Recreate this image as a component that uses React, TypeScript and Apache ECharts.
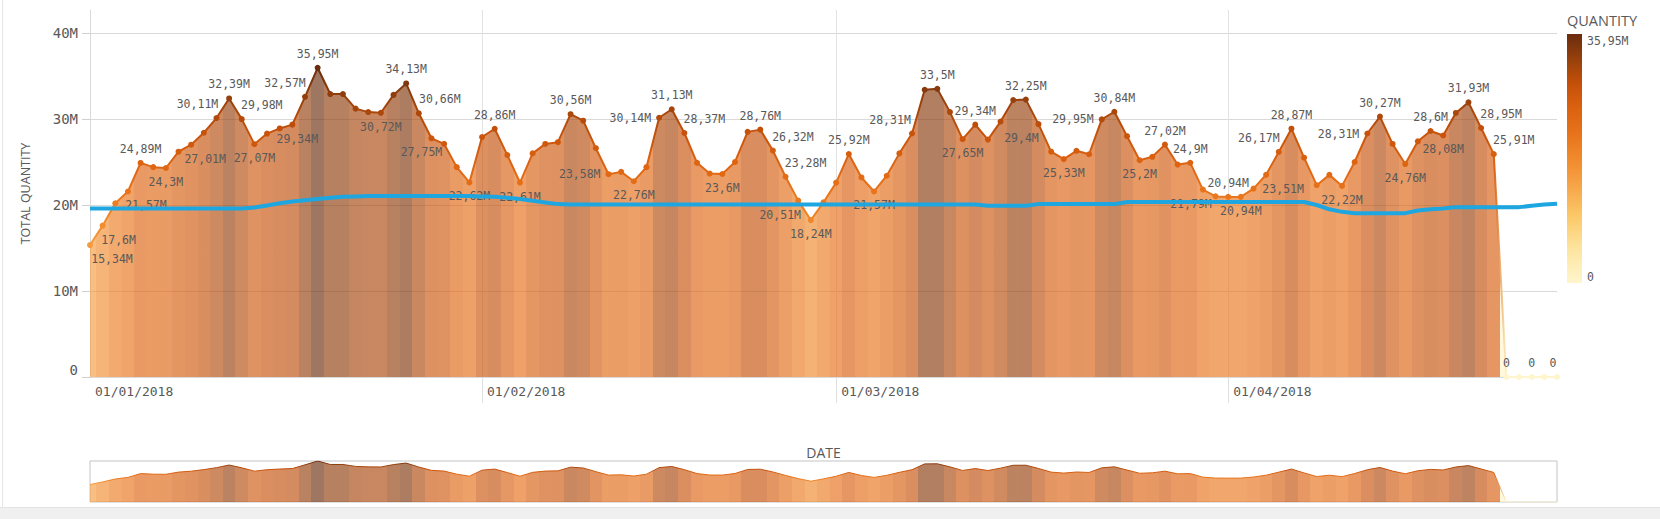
import React, { useEffect, useRef } from "react";
import * as echarts from "echarts";

// ---- data (values in millions) ----
const quantity: number[] = [
  15.34, 17.6, 20.2, 21.57, 24.89, 24.4, 24.3, 26.2, 27.01, 28.4,
  30.11, 32.39, 29.98, 27.07, 28.3, 28.9, 29.34, 32.57, 35.95, 32.9,
  32.9, 31.2, 30.8, 30.72, 32.8, 34.13, 30.66, 27.75, 27.1, 24.4,
  22.62, 27.9, 28.86, 25.8, 22.61, 26.0, 27.1, 27.3, 30.56, 29.8,
  26.6, 23.58, 23.85, 22.76, 24.4, 30.14, 31.13, 28.37, 24.9, 23.65,
  23.6, 25.0, 28.5, 28.76, 26.32, 23.28, 20.51, 18.24, 20.3, 22.6,
  25.92, 23.2, 21.57, 23.4, 26.0, 28.31, 33.4, 33.5, 30.8, 27.65,
  29.34, 27.6, 29.7, 32.2, 32.25, 29.4, 26.2, 25.33, 26.3, 25.9,
  29.95, 30.84, 28.0, 25.2, 25.6, 27.02, 24.7, 24.9, 21.79, 21.0,
  20.94, 20.94, 21.9, 23.51, 26.17, 28.87, 25.5, 22.3, 23.5, 22.22,
  25.0, 28.31, 30.27, 27.1, 24.76, 27.4, 28.6, 28.08, 30.7, 31.93,
  28.95, 25.91, 0, 0, 0, 0, 0,
];

const trend: number[] = [
  19.6, 19.6, 19.6, 19.6, 19.6, 19.6, 19.6, 19.6, 19.6, 19.6,
  19.6, 19.6, 19.6, 19.7, 19.95, 20.2, 20.4, 20.55, 20.7, 20.85,
  20.95, 21.0, 21.05, 21.05, 21.05, 21.05, 21.05, 21.05, 21.05, 21.05,
  21.05, 21.0, 20.95, 20.85, 20.7, 20.5, 20.3, 20.1, 20.05, 20.05,
  20.05, 20.05, 20.05, 20.05, 20.05, 20.05, 20.05, 20.05, 20.05, 20.05,
  20.05, 20.05, 20.05, 20.05, 20.05, 20.05, 20.05, 20.05, 20.05, 20.05,
  20.05, 20.05, 20.05, 20.05, 20.05, 20.05, 20.05, 20.05, 20.05, 20.05,
  20.05, 19.9, 19.9, 19.9, 19.9, 20.1, 20.1, 20.1, 20.1, 20.1,
  20.1, 20.1, 20.35, 20.35, 20.35, 20.35, 20.35, 20.35, 20.35, 20.35,
  20.35, 20.35, 20.35, 20.35, 20.35, 20.35, 20.35, 20.0, 19.5, 19.2,
  19.05, 19.05, 19.05, 19.05, 19.05, 19.35, 19.5, 19.6, 19.75, 19.75,
  19.75, 19.75, 19.75, 19.75, 19.9, 20.05, 20.15,
];

const START_YEAR = 2018;
const dates: string[] = quantity.map((_, i) => {
  const d = new Date(START_YEAR, 0, 1 + i);
  const dd = String(d.getDate()).padStart(2, "0");
  const mm = String(d.getMonth() + 1).padStart(2, "0");
  return `${dd}/${mm}/${d.getFullYear()}`;
});

const yTicks: number[] = [0, 10, 20, 30, 40];
const Y_TOP = 42.67;
const legendTitle = "QUANTITY";
const xTitle = "DATE";
const yTitle = "TOTAL QUANTITY";

// label placement: [day index, side, x offset]
const labelPlacement: [number, string, number][] = [
  [0, "b", 22], [1, "b", 16], [3, "b", 18], [4, "t", 0], [6, "b", 0], [8, "b", 14],
  [10, "t", -19], [11, "t", 0], [12, "t", 20], [13, "b", 0], [16, "b", 5], [17, "t", -20],
  [18, "t", 0], [23, "b", 0], [25, "t", 0], [26, "t", 21], [27, "b", -10], [30, "b", 0],
  [32, "t", 0], [34, "b", 0], [38, "t", 0], [41, "l", 0], [43, "b", 0], [45, "l", 0],
  [46, "t", 0], [47, "t", 20], [50, "b", 0], [53, "t", 0], [54, "t", 20], [55, "t", 20],
  [56, "b", -18], [57, "b", 0], [60, "t", 0], [62, "b", 0], [65, "t", -22], [67, "t", 0],
  [69, "b", 0], [70, "t", 0], [74, "t", 0], [75, "b", -17], [77, "b", 0], [80, "l", 0],
  [81, "t", 0], [83, "b", 0], [85, "t", 0], [87, "t", 0], [88, "b", -12], [90, "t", 0],
  [91, "b", 0], [93, "b", 17], [94, "t", -20], [95, "t", 0], [99, "b", 0], [101, "l", 0],
  [102, "t", 0], [104, "b", 0], [106, "t", 0], [107, "b", 0], [109, "t", 0], [110, "t", 20],
  [111, "t", 20], [112, "t", 0], [114, "t", 0], [116, "t", -4],
];

// ---- styling ----
const MONO = '"DejaVu Sans Mono", monospace';
const SANS = '"Open Sans", "Liberation Sans", sans-serif';
const TEXT = "#595959";
const AREA_ALPHA = 0.65;

const PALETTE: [number, string][] = [
  [0, "#fff5cc"], [0.13, "#fde6a2"], [0.27, "#fbc868"], [0.43, "#f59a3e"],
  [0.5, "#f08a2c"], [0.6, "#e8731a"], [0.7, "#dc6210"], [0.8, "#c4500a"],
  [0.9, "#96400c"], [1, "#6a2d0e"],
];

function hexToRgb(h: string): number[] {
  const n = parseInt(h.slice(1), 16);
  return [(n >> 16) & 255, (n >> 8) & 255, n & 255];
}
function colorAt(t: number): number[] {
  const c = Math.max(0, Math.min(1, t));
  for (let i = 1; i < PALETTE.length; i++) {
    const [t1, h1] = PALETTE[i];
    const [t0, h0] = PALETTE[i - 1];
    if (c <= t1) {
      const f = (c - t0) / (t1 - t0 || 1);
      const a = hexToRgb(h0);
      const b = hexToRgb(h1);
      return a.map((v, k) => Math.round(v + (b[k] - v) * f));
    }
  }
  return hexToRgb(PALETTE[PALETTE.length - 1][1]);
}
const rgb = (c: number[]) => `rgb(${c[0]},${c[1]},${c[2]})`;
const rgba = (c: number[], a: number) => `rgba(${c[0]},${c[1]},${c[2]},${a})`;

const maxQ = Math.max(...quantity);
const last = quantity.length - 1;

function lineGradient() {
  return new echarts.graphic.LinearGradient(
    0, 0, 1, 0,
    quantity.map((v, i) => ({ offset: i / last, color: rgb(colorAt(v / maxQ)) }))
  );
}
function areaGradient() {
  const stops: { offset: number; color: string }[] = [];
  quantity.forEach((v, i) => {
    const c = rgba(colorAt(v / maxQ), AREA_ALPHA);
    stops.push({ offset: Math.max(0, (i - 0.5) / last), color: c });
    stops.push({ offset: Math.min(1, (i + 0.5) / last), color: c });
  });
  return new echarts.graphic.LinearGradient(0, 0, 1, 0, stops);
}

const fmtVal = (v: number) => (v === 0 ? "0" : String(v).replace(".", ",") + "M");

export default function App() {
  const ref = useRef<HTMLDivElement>(null);

  useEffect(() => {
    if (!ref.current) return;
    const chart = echarts.init(ref.current, null, { renderer: "svg" });

    const placement: Record<number, [string, number]> = {};
    labelPlacement.forEach(([i, s, dx]) => (placement[i] = [s, dx]));

    const mainData = quantity.map((v, i) => {
      const p = placement[i];
      const item: any = {
        value: v,
        itemStyle: { color: rgb(colorAt(v / maxQ)) },
      };
      if (p) {
        item.label = {
          show: true,
          position: p[0] === "t" ? "top" : p[0] === "b" ? "bottom" : "left",
          offset: [p[1], 0],
        };
      }
      return item;
    });

    const isMonthStart = (_: number, val: string) => val.startsWith("01/");
    const isMonthGrid = (idx: number, val: string) => idx > 0 && val.startsWith("01/");

    const legendStops = PALETTE.map(([t]) => ({ offset: 1 - t, color: rgb(colorAt(t)) })).reverse();

    const option: any = {
      animation: false,
      backgroundColor: "#ffffff",
      textStyle: { fontFamily: SANS },
      grid: [
        { left: 90, right: 103, top: 10, bottom: 142 },
        { left: 90, right: 103, top: 461, height: 41, show: true, borderColor: "#c4c4c4", borderWidth: 1 },
      ],
      xAxis: [
        {
          type: "category",
          gridIndex: 0,
          data: dates,
          boundaryGap: false,
          axisLine: { show: true, lineStyle: { color: "#d9d9d9" } },
          axisTick: { show: true, interval: isMonthGrid, length: 26, lineStyle: { color: "#e0e0e0" } },
          axisLabel: {
            interval: isMonthStart,
            align: "left",
            padding: [0, 0, 0, 5],
            margin: 8,
            color: TEXT,
            fontFamily: MONO,
            fontSize: 13,
          },
          splitLine: { show: true, interval: isMonthGrid, lineStyle: { color: "#e3e3e3" } },
          name: xTitle,
          nameLocation: "middle",
          nameGap: 68,
          nameTextStyle: { fontFamily: SANS, fontSize: 14, color: TEXT },
        },
        {
          type: "category",
          gridIndex: 1,
          data: dates,
          boundaryGap: false,
          show: false,
        },
      ],
      yAxis: [
        {
          type: "value",
          gridIndex: 0,
          min: 0,
          max: Y_TOP,
          interval: 10,
          axisLine: { show: true, lineStyle: { color: "#d9d9d9" } },
          axisTick: { show: true, length: 8, lineStyle: { color: "#d0d0d0" }, customValues: yTicks },
          axisLabel: {
            customValues: yTicks,
            margin: 12,
            color: TEXT,
            fontFamily: MONO,
            fontSize: 14,
            formatter: (v: number) => (v === 0 ? "{z|0}" : `${v}M`),
            rich: { z: { padding: [0, 0, 14, 0], color: TEXT, fontFamily: MONO, fontSize: 14 } },
          },
          splitLine: {
            show: true,
            lineStyle: { color: ["#d9d9d9", "#d9d9d9", "#d9d9d9", "#d9d9d9", "#d9d9d9", "rgba(0,0,0,0)"] },
          },
          name: yTitle,
          nameLocation: "middle",
          nameGap: 58,
          nameTextStyle: { fontFamily: SANS, fontSize: 12.5, color: TEXT },
        },
        {
          type: "value",
          gridIndex: 1,
          min: 0,
          max: "dataMax",
          show: false,
          splitLine: { show: false },
        },
      ],
      series: [
        {
          type: "line",
          name: "Quantity",
          xAxisIndex: 0,
          yAxisIndex: 0,
          data: mainData,
          symbol: "circle",
          symbolSize: 6,
          showSymbol: true,
          lineStyle: { width: 2, color: lineGradient() },
          areaStyle: { color: areaGradient(), opacity: 1 },
          label: {
            show: false,
            color: TEXT,
            fontFamily: MONO,
            fontSize: 11.5,
            formatter: (p: any) => fmtVal(p.value),
          },
          z: 2,
        },
        {
          type: "line",
          name: "Trend",
          xAxisIndex: 0,
          yAxisIndex: 0,
          data: trend,
          symbol: "none",
          lineStyle: { width: 4, color: "#1ea6e0" },
          z: 5,
          silent: true,
        },
        {
          type: "line",
          name: "Navigator",
          xAxisIndex: 1,
          yAxisIndex: 1,
          data: quantity,
          symbol: "none",
          lineStyle: { width: 1, color: lineGradient() },
          areaStyle: { color: areaGradient(), opacity: 1 },
          silent: true,
        },
      ],
      graphic: [
        { type: "rect", left: 0, top: 508, shape: { width: 1660, height: 11 }, style: { fill: "#f0f0f0" }, silent: true },
        { type: "line", shape: { x1: 0, y1: 507.5, x2: 1660, y2: 507.5 }, style: { stroke: "#e2e2e2", lineWidth: 1 }, silent: true },
        { type: "line", shape: { x1: 2.5, y1: 0, x2: 2.5, y2: 508 }, style: { stroke: "#e6e6e6", lineWidth: 1 }, silent: true },
        {
          type: "text",
          x: 1567,
          y: 20,
          style: { text: legendTitle, fill: TEXT, font: `14.5px ${SANS}`, verticalAlign: "middle" },
        },
        {
          type: "rect",
          shape: { x: 1567, y: 34, width: 15, height: 249 },
          style: { fill: new echarts.graphic.LinearGradient(0, 0, 0, 1, legendStops) },
          silent: true,
        },
        {
          type: "text",
          x: 1587,
          y: 41,
          style: { text: fmtVal(maxQ), fill: TEXT, font: `11.5px ${MONO}`, verticalAlign: "middle" },
        },
        {
          type: "text",
          x: 1587,
          y: 277,
          style: { text: fmtVal(0), fill: TEXT, font: `11.5px ${MONO}`, verticalAlign: "middle" },
        },
      ],
    };

    chart.setOption(option);
    return () => chart.dispose();
  }, []);

  return (
    <div
      ref={ref}
      style={{ position: "absolute", left: 0, top: 0, width: 1660, height: 519, background: "#fff" }}
    />
  );
}
